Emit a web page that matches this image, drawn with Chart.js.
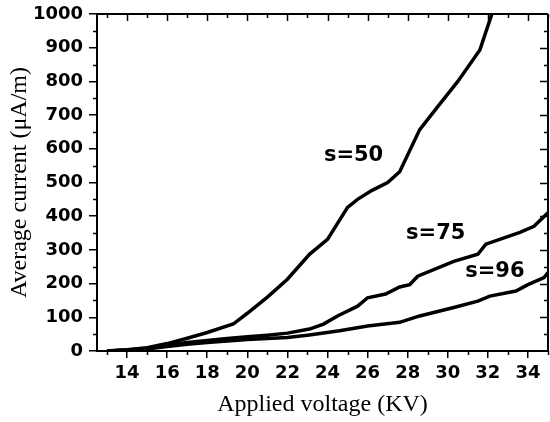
<!DOCTYPE html>
<html>
<head>
<meta charset="utf-8">
<script src="https://cdn.jsdelivr.net/npm/chart.js@4"></script>
<style>
    html, body { margin: 0; padding: 0; background: #fff; }
    #wrap { width: 550px; height: 422px; }
</style>
</head>
<body>
<div id="wrap"><canvas id="mainChart" width="550" height="422"></canvas></div>
<script>
// data
const xTicks = [14, 16, 18, 20, 22, 24, 26, 28, 30, 32, 34];
const yTicks = [0, 100, 200, 300, 400, 500, 600, 700, 800, 900, 1000];

const voltage50 = [13, 14, 15, 16, 17, 18, 19.3, 20, 21, 22, 23.1, 24, 25, 25.5, 26.2, 27, 27.6, 28.6, 29.5, 30.5, 31.6, 32.2];
const current50 = [0, 4, 10, 22, 38, 55, 80, 112, 160, 213, 287, 331, 426, 450, 476, 500, 532, 657, 725, 800, 893, 1000];

const voltage75 = [13, 14, 15, 16, 17, 18, 19, 20, 21, 22, 23.1, 23.8, 24.5, 25.5, 26, 26.9, 27.6, 28.1, 28.5, 30.3, 31.5, 31.9, 33.6, 34.3, 35];
const current75 = [0, 3, 8, 17, 25, 31, 37, 42, 47, 53, 65, 80, 104, 133, 158, 169, 190, 197, 222, 266, 287, 317, 352, 370, 410];

const voltage96 = [13, 14, 15, 16, 17, 18, 19, 20, 21, 22, 23, 24.6, 26, 27.6, 28.6, 30.3, 31.5, 32.1, 33.4, 34, 34.8, 35];
const current96 = [0, 2, 6, 13, 20, 25, 30, 34, 37, 40, 47, 60, 74, 85, 104, 129, 148, 163, 178, 197, 218, 233];

const seriesNames = ["s=50", "s=75", "s=96"];

function toPoints(xs, ys) {
    return xs.map((x, i) => ({ x: x, y: ys[i] }));
}

// where the curve labels sit (data units)
const labelSpots = [
    { x: 25.3, y: 581 },
    { x: 29.4, y: 350 },
    { x: 32.35, y: 236 }
];

// frame: top/right axis lines, inward ticks, minor ticks, curve labels
const framePlugin = {
    id: "frame",
    afterDraw(chart) {
        const ctx = chart.ctx;
        const a = chart.chartArea;
        const xs = chart.scales.x;
        const ys = chart.scales.y;
        ctx.save();
        ctx.strokeStyle = "#000";
        ctx.lineWidth = 2;
        ctx.beginPath();
        ctx.moveTo(a.left, a.top);
        ctx.lineTo(a.right, a.top);
        ctx.moveTo(a.right, a.top);
        ctx.lineTo(a.right, a.bottom);
        ctx.stroke();

        ctx.lineWidth = 1.5;
        ctx.beginPath();
        // x ticks every 1 kV
        for (let v = 13; v <= 35; v++) {
            const px = Math.round(xs.getPixelForValue(v)) + 0.5;
            const major = xTicks.includes(v);
            const len = major ? 7 : 4;
            // top, inward
            ctx.moveTo(px, a.top);
            ctx.lineTo(px, a.top + len);
            // bottom minor, outward
            if (!major) {
                ctx.moveTo(px, a.bottom);
                ctx.lineTo(px, a.bottom + len);
            }
        }
        // y ticks every 50
        for (let v = 50; v < 1000; v += 50) {
            const py = Math.round(ys.getPixelForValue(v)) + 0.5;
            const major = yTicks.includes(v);
            const len = major ? 8 : 4;
            ctx.moveTo(a.right, py);
            ctx.lineTo(a.right - len, py);
            if (!major) {
                ctx.moveTo(a.left, py);
                ctx.lineTo(a.left - len, py);
            }
        }
        ctx.stroke();

        // curve labels
        ctx.fillStyle = "#000";
        ctx.font = "bold 21px 'DejaVu Sans'";
        ctx.textAlign = "center";
        ctx.textBaseline = "middle";
        seriesNames.forEach((name, i) => {
            const px = xs.getPixelForValue(labelSpots[i].x);
            const py = ys.getPixelForValue(labelSpots[i].y);
            ctx.fillText(name, px, py);
        });
        ctx.restore();
    }
};

const curves = [
    toPoints(voltage50, current50),
    toPoints(voltage75, current75),
    toPoints(voltage96, current96)
];

new Chart(document.getElementById("mainChart").getContext("2d"), {
    type: "line",
    data: {
        datasets: curves.map((pts, i) => ({
            label: seriesNames[i],
            data: pts,
            borderColor: "#000",
            borderWidth: 3.5,
            pointRadius: 0,
            tension: 0,
            fill: false
        }))
    },
    options: {
        responsive: false,
        animation: false,
        layout: { padding: { top: 14, right: 2, left: 0, bottom: 0 } },
        plugins: {
            legend: { display: false },
            tooltip: { enabled: false }
        },
        scales: {
            x: {
                type: "linear",
                min: 12.5,
                max: 35,
                afterBuildTicks: scale => { scale.ticks = xTicks.map(v => ({ value: v })); },
                afterFit: scale => {
                    scale.height = 71;
                    scale.paddingLeft = 0;
                    scale.paddingRight = 0;
                },
                grid: { display: true, drawOnChartArea: false, drawTicks: true, tickLength: 7, color: "#000", lineWidth: 1.5 },
                border: { display: true, color: "#000", width: 2 },
                ticks: {
                    color: "#000",
                    padding: 5,
                    maxRotation: 0,
                    callback: v => String(v),
                    font: { family: "'DejaVu Sans'", size: 18, weight: "bold" }
                },
                title: {
                    display: true,
                    text: "Applied voltage (KV)",
                    color: "#000",
                    font: { family: "'Liberation Serif'", size: 24 },
                    padding: { top: 0, bottom: 3 }
                }
            },
            y: {
                min: 0,
                max: 1000,
                afterBuildTicks: scale => { scale.ticks = yTicks.map(v => ({ value: v })); },
                afterFit: scale => {
                    scale.width = 97;
                    scale.paddingTop = 0;
                    scale.paddingBottom = 0;
                },
                grid: { display: true, drawOnChartArea: false, drawTicks: true, tickLength: 8, color: "#000", lineWidth: 1.5 },
                border: { display: true, color: "#000", width: 2 },
                ticks: {
                    color: "#000",
                    padding: 6,
                    callback: v => String(v),
                    font: { family: "'DejaVu Sans'", size: 18, weight: "bold" }
                },
                title: {
                    display: true,
                    text: "Average current (μA/m)",
                    color: "#000",
                    font: { family: "'Liberation Serif'", size: 24 },
                    padding: { top: 5, bottom: 0 }
                }
            }
        }
    },
    plugins: [framePlugin]
});
</script>
</body>
</html>
